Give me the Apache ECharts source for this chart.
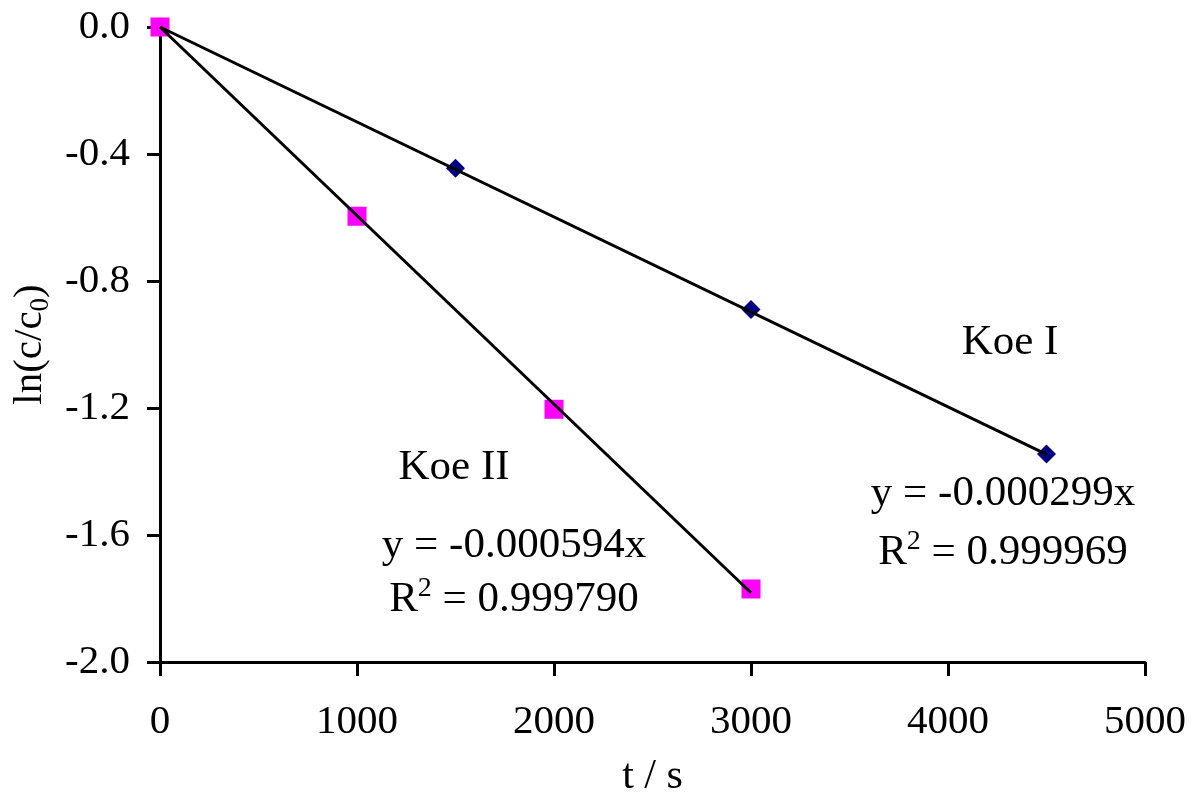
<!DOCTYPE html>
<html>
<head>
<meta charset="utf-8">
<script src="https://cdn.jsdelivr.net/npm/echarts@6/dist/echarts.min.js"></script>
<style>
  html, body { margin: 0; padding: 0; background: #fff; }
  #chart { width: 1192px; height: 795px; }
</style>
</head>
<body>
<div id="chart"></div>
<script>
// measured points (t / s, ln(c/c0))
const koeIX = [0, 1500, 3000, 4500];
const koeIY = [0, -0.445, -0.89, -1.345];
const koeIIX = [0, 1000, 2000, 3000];
const koeIIY = [0, -0.596, -1.204, -1.77];

// trend line end points as drawn in the picture
const trendIX = [0, 4500];
const trendIY = [0, -1.346];
const trendIIX = [0, 3000];
const trendIIY = [0, -1.782];

const xTicks = [0, 1000, 2000, 3000, 4000, 5000];
const yTicks = [0.0, -0.4, -0.8, -1.2, -1.6, -2.0];

const FONT = "Liberation Serif";

const pairs = (xs, ys) => xs.map((x, i) => [x, ys[i]]);

const chart = echarts.init(document.getElementById("chart"));

const label = (text, x, y) => ({
  type: "text",
  x,
  y,
  z: 10,
  style: {
    text,
    fontFamily: FONT,
    fontSize: 43,
    fill: "#000",
    align: "center",
    verticalAlign: "middle",
    rich: {
      r: { fontFamily: FONT, fontSize: 43, lineHeight: 50 },
      sup: { fontFamily: FONT, fontSize: 28, lineHeight: 34, verticalAlign: "top" },
    },
  },
});

chart.setOption({
  animation: false,
  backgroundColor: "#fff",
  grid: { left: 160, right: 47, top: 27, bottom: 133, containLabel: false, outerBoundsMode: "none" },
  xAxis: {
    type: "value",
    min: xTicks[0],
    max: xTicks[xTicks.length - 1],
    interval: 1000,
    name: "t / s",
    nameLocation: "middle",
    nameGap: 94,
    nameTextStyle: { fontFamily: FONT, fontSize: 42, color: "#000" },
    axisLine: { onZero: false, lineStyle: { color: "#000", width: 3 } },
    axisTick: { show: true, inside: false, length: 14, lineStyle: { color: "#000", width: 3 } },
    axisLabel: {
      fontFamily: FONT,
      fontSize: 41,
      color: "#000",
      margin: 40,
      formatter: (v) => String(v),
    },
    splitLine: { show: false },
  },
  yAxis: {
    type: "value",
    min: yTicks[yTicks.length - 1],
    max: yTicks[0],
    interval: 0.4,
    name: "{a|ln(c/c}{s|0}{a|)}",
    nameLocation: "middle",
    nameGap: 102,
    nameRotate: 90,
    nameTextStyle: {
      fontFamily: FONT,
      fontSize: 41,
      color: "#000",
      rich: {
        a: { fontFamily: FONT, fontSize: 41, lineHeight: 48, color: "#000" },
        s: { fontFamily: FONT, fontSize: 27, lineHeight: 30, verticalAlign: "bottom", color: "#000" },
      },
    },
    axisLine: { onZero: false, lineStyle: { color: "#000", width: 3 } },
    axisTick: { show: true, inside: false, length: 13, lineStyle: { color: "#000", width: 3 } },
    axisLabel: {
      fontFamily: FONT,
      fontSize: 41,
      color: "#000",
      margin: 30,
      formatter: (v) => v.toFixed(1),
    },
    splitLine: { show: false },
  },
  series: [
    {
      name: "Koe I",
      type: "scatter",
      symbol: "diamond",
      symbolSize: 19,
      itemStyle: { color: "#000080", opacity: 1 },
      data: pairs(koeIX, koeIY),
      z: 2,
    },
    {
      name: "Koe II",
      type: "scatter",
      symbol: "rect",
      symbolSize: 19,
      itemStyle: { color: "#ff00ff", opacity: 1 },
      data: pairs(koeIIX, koeIIY),
      z: 3,
    },
    {
      name: "trend I",
      type: "line",
      showSymbol: false,
      lineStyle: { color: "#000", width: 3 },
      data: pairs(trendIX, trendIY),
      z: 5,
    },
    {
      name: "trend II",
      type: "line",
      showSymbol: false,
      lineStyle: { color: "#000", width: 3 },
      data: pairs(trendIIX, trendIIY),
      z: 5,
    },
  ],
  graphic: [
    label("Koe I", 1010, 343),
    label("Koe II", 454, 468),
    label("y = -0.000299x", 1003, 494),
    label("{r|R}{sup|2}{r| = 0.999969}", 1003, 553),
    label("y = -0.000594x", 514, 546),
    label("{r|R}{sup|2}{r| = 0.999790}", 514, 600),
  ],
});
</script>
</body>
</html>
